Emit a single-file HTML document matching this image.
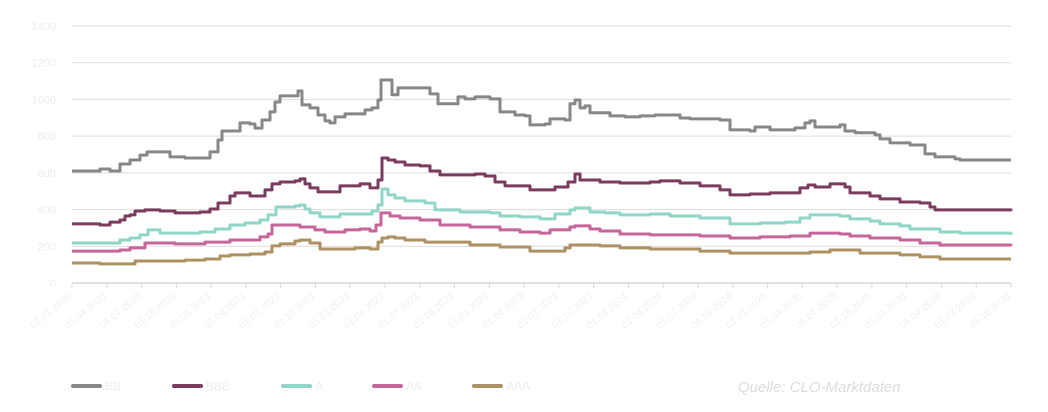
<!DOCTYPE html>
<html><head><meta charset="utf-8">
<style>
html,body{margin:0;padding:0;background:#fff;}
body{width:1048px;height:407px;overflow:hidden;font-family:"Liberation Sans",sans-serif;}
</style></head>
<body>
<svg id="chart" width="1048" height="407" viewBox="0 0 1048 407" xmlns="http://www.w3.org/2000/svg">
<g id="grid"></g>
<g id="yaxis"></g>
<g id="xaxis"></g>
<g id="series"></g>
<g id="legend"></g>
<text x="738" y="392" font-size="15" font-style="italic" fill="#dcdcdc">Quelle: CLO-Marktdaten</text>
</svg>
<script>
const yTicks = [0,200,400,600,800,1000,1200,1400];
const xTickLabels = ["01.01.2020","01.04.2020","01.07.2020","01.10.2020","01.01.2021","01.04.2021","01.07.2021","01.10.2021","01.01.2022","01.04.2022","01.07.2022","01.10.2022","01.01.2023","01.04.2023","01.07.2023","01.10.2023","01.01.2024","01.04.2024","01.07.2024","01.10.2024","01.01.2025","01.04.2025","01.07.2025","01.10.2025","01.01.2026","01.04.2026","01.07.2026","01.10.2026"];
const seriesNames = ["BB","BBB","A","AA","AAA"];
const seriesColors = ["#878787","#7a3b5e","#8fd6c6","#c4669a","#ad9162"];

const tBB = [0,28,38,48,58,68,75,93,98,113,128,138,146,150,163,168,178,183,190,198,203,208,223,226,230,238,246,253,258,263,273,288,293,300,306,309,316,320,326,358,366,378,386,393,403,418,428,443,453,458,473,478,493,498,503,508,513,518,528,538,553,568,583,608,618,648,658,678,683,698,723,733,738,743,768,773,783,803,808,818,838,853,863,883,888,903,939];
const vBB = [610,621,610,648,670,697,714,714,687,681,681,714,779,828,828,872,866,844,888,932,986,1019,1019,1046,970,954,915,883,872,905,921,921,943,954,997,1106,1106,1025,1063,1030,976,976,1014,1003,1014,1003,932,915,910,861,866,894,888,976,997,954,965,927,927,910,905,910,915,899,894,888,834,828,850,834,845,872,883,850,861,828,818,807,785,763,752,703,687,676,670,670,670];

const tBBB = [0,28,38,48,53,58,63,73,88,103,128,138,146,158,163,178,193,200,208,223,228,233,238,246,258,268,288,298,306,310,316,323,333,348,358,368,403,413,423,433,448,458,473,483,496,503,508,518,528,548,578,588,608,628,648,658,678,698,708,728,736,743,753,758,773,778,798,808,828,848,858,863,939];
const vBBB = [322,316,332,343,365,371,392,398,392,382,387,403,436,474,491,474,507,540,550,556,567,540,518,496,496,529,540,518,561,681,670,659,643,638,610,589,594,583,550,529,529,507,507,523,550,594,561,561,550,545,550,556,545,529,507,480,485,491,491,518,534,523,523,540,523,491,474,458,441,436,414,398,392];

const tA = [0,28,48,58,68,76,88,103,128,143,158,173,188,196,204,223,228,233,238,248,268,288,300,306,310,316,323,333,353,363,388,418,428,448,468,483,498,503,518,533,548,578,598,628,658,688,698,713,728,738,768,778,798,808,828,838,868,888,939];
const vA = [218,218,234,245,262,289,272,272,278,294,316,327,343,371,414,420,425,403,382,360,376,376,392,425,512,480,463,447,436,398,387,382,365,360,349,376,398,409,387,382,371,376,365,354,322,327,327,332,354,371,365,349,338,322,311,294,278,272,262];

const tAA = [0,28,48,58,73,103,133,158,188,196,200,223,228,243,253,273,288,298,304,309,318,328,348,368,398,428,448,468,478,498,503,518,528,548,578,628,658,688,718,738,768,778,798,828,848,868,939];
const vAA = [174,174,180,191,218,213,223,234,251,267,316,316,305,289,278,289,294,283,316,382,365,354,343,316,305,289,278,272,289,305,311,294,283,267,262,256,245,251,256,272,267,256,245,234,218,207,202];

const tAAA = [0,28,58,63,93,113,133,148,158,178,193,200,208,223,228,238,248,268,283,298,306,310,316,323,333,353,368,398,428,458,478,493,498,508,528,548,578,628,658,708,738,758,768,788,808,828,848,868,939];
const vAAA = [109,104,104,120,120,125,131,147,153,158,169,202,213,229,234,218,185,185,191,185,223,245,251,245,234,223,223,207,196,174,174,191,207,207,202,191,185,174,163,163,169,180,180,163,163,153,142,131,131];

const seriesT = [tBB,tBBB,tA,tAA,tAAA];
const seriesV = [vBB,vBBB,vA,vAA,vAAA];

const NS="http://www.w3.org/2000/svg";
const X0=72,X1=1011,Y0=283,Y1=26,TMAX=939,VMAX=1400;
function xs(t){return X0+(t/TMAX)*(X1-X0);}
function ys(v){return Y0-(v/VMAX)*(Y0-Y1);}
function mk(tag,attrs,parent){const e=document.createElementNS(NS,tag);for(const k in attrs)e.setAttribute(k,attrs[k]);parent.appendChild(e);return e;}

const grid=document.getElementById('grid'),yax=document.getElementById('yaxis'),xax=document.getElementById('xaxis');
yTicks.forEach(v=>{
  if(v>0){const l=mk('line',{x1:X0,x2:X1,y1:ys(v),y2:ys(v),stroke:'#dddddd','stroke-width':1},grid);
  
  }
  const t=mk('text',{x:56,y:ys(v)+4,'text-anchor':'end','font-size':11,fill:'#ececec'},yax);
  
  
  t.textContent=v;
});
const base=mk('line',{x1:X0,x2:X1,y1:Y0,y2:Y0,stroke:'#d9d9d9','stroke-width':1.5},xax);


const n=xTickLabels.length-1;
xTickLabels.forEach((lab,i)=>{
  const x=X0+i*(X1-X0)/(n-0)*(n)/(n);
  const xx=X0+i*(X1-X0)/27;
  if(i>27)return;
  const tk=mk('line',{x1:xx,x2:xx,y1:Y0,y2:Y0+5,stroke:'#d9d9d9','stroke-width':1},xax);
  
  
  const tx=mk('text',{x:xx,y:Y0+14,'text-anchor':'end','font-size':10,fill:'#f0f0f0',transform:'rotate(-40 '+xx+' '+(Y0+14)+')'},xax);
  
  
  tx.textContent=lab;
});

const sg=document.getElementById('series');
seriesT.forEach((ts,si)=>{
  const vs=seriesV[si];
  let d='M'+xs(ts[0]).toFixed(1)+','+ys(vs[0]).toFixed(1);
  for(let i=1;i<ts.length;i++){
    d+=' H'+xs(ts[i]).toFixed(1)+' V'+ys(vs[i]).toFixed(1);
  }
  const p=mk('path',{d:d,fill:'none',stroke:seriesColors[si],'stroke-width':3,'stroke-linejoin':'round'},sg);
  
  
});

const lg=document.getElementById('legend');
const lx=[72,173,282,373,473];
seriesNames.forEach((nm,i)=>{
  const g=mk('g',{},lg);
  
  
  mk('line',{x1:lx[i]+1,x2:lx[i]+28,y1:386,y2:386,stroke:seriesColors[i],'stroke-width':4,'stroke-linecap':'round'},g);
  const t=mk('text',{x:lx[i]+33,y:390,'font-size':12,fill:'#eeeeee'},g);
  t.textContent=nm;
});
</script>
</body></html>
